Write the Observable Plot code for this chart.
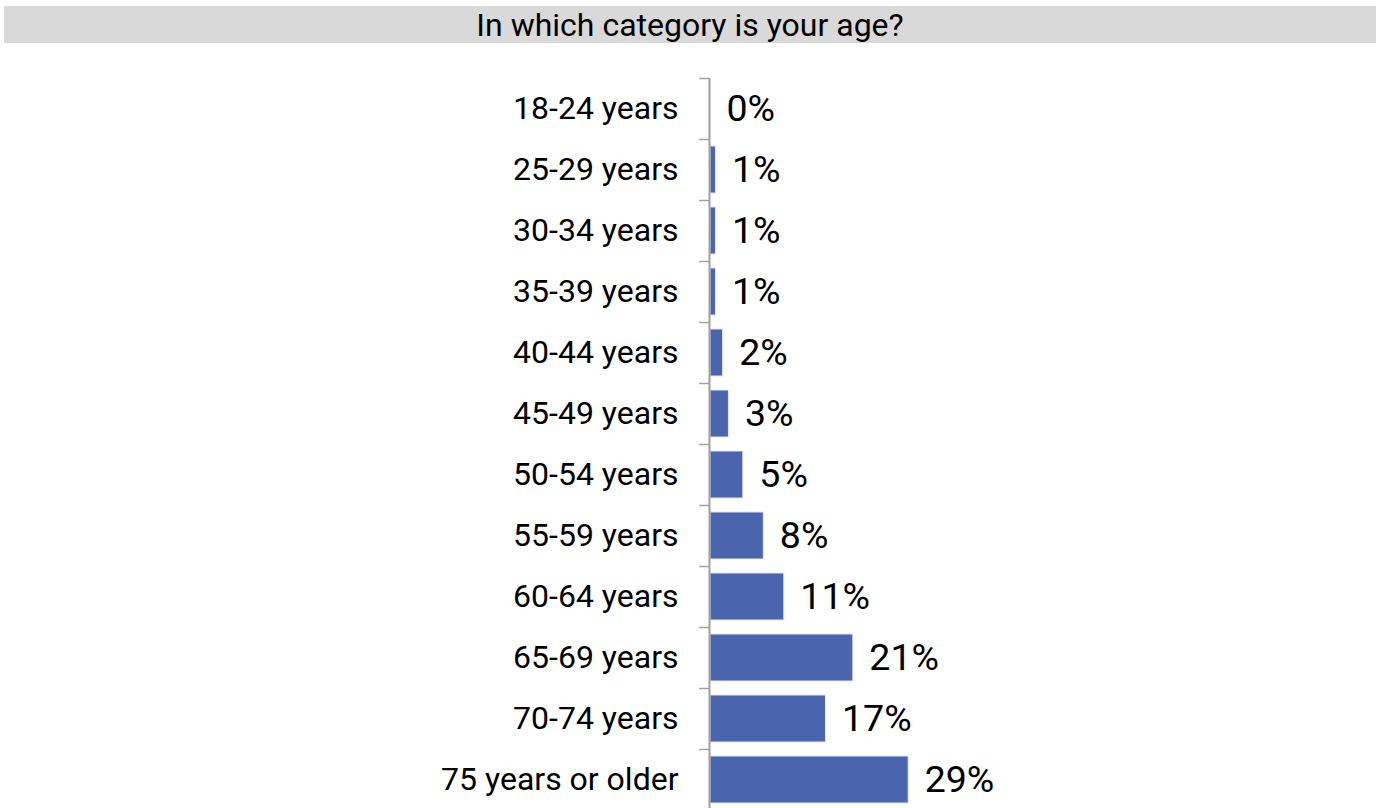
<!DOCTYPE html>
<html>
<head>
<meta charset="utf-8">
<script src="https://cdn.jsdelivr.net/npm/d3@7"></script>
<script src="https://cdn.jsdelivr.net/npm/@observablehq/plot@0.6"></script>
<style>
  html, body { margin: 0; padding: 0; background: #fff; }
  body { width: 1376px; height: 808px; overflow: hidden; font-family: Roboto, sans-serif; }
  #title {
    margin: 6px 0 0 4px; width: 1372px; height: 37px; line-height: 38px;
    background: #d9d9d9; color: #000; text-align: center; font-size: 32px;
  }
  #chart svg { display: block; font-family: Roboto, sans-serif; }
</style>
</head>
<body>
<div id="title">In which category is your age?</div>
<div id="chart"></div>
<script>
const categories = ["18-24 years", "25-29 years", "30-34 years", "35-39 years", "40-44 years", "45-49 years", "50-54 years", "55-59 years", "60-64 years", "65-69 years", "70-74 years", "75 years or older"];
const values = [0, 0.8, 0.8, 0.8, 1.85, 2.7, 4.8, 7.8, 10.8, 20.9, 16.9, 29.0];
const valueLabels = ["0%", "1%", "1%", "1%", "2%", "3%", "5%", "8%", "11%", "21%", "17%", "29%"];

const data = categories.map((c, i) => ({category: c, value: values[i], label: valueLabels[i]}));

const chart = Plot.plot({
  width: 1376,
  height: 767,
  marginLeft: 710,
  marginRight: 461,
  marginTop: 35,
  marginBottom: 0,
  style: {fontFamily: "Roboto, sans-serif", color: "#000", background: "transparent"},
  x: {domain: [0, 30], axis: null},
  y: {domain: categories, paddingInner: 0.235, paddingOuter: 0.1175, label: null, axis: null},
  marks: [
    Plot.barX(data, {y: "category", x: "value", fill: "#4a65ad", stroke: "#e3e8f1", strokeWidth: 1}),
    Plot.ruleY(categories, {y: d => d, x1: -1.45, x2: 0, dx: -1, dy: -30.5, stroke: "#a0a0a0", strokeWidth: 1.5}),
    Plot.ruleX([0], {dx: -1, stroke: "#a0a0a0", strokeWidth: 2}),
    Plot.axisY({tickSize: 0, tickPadding: 32, fontSize: 32, fill: "#000", label: null}),
    Plot.text(data, {y: "category", x: "value", text: "label", textAnchor: "start", dx: 16, fontSize: 37.5, fill: "#000"})
  ]
});
document.getElementById("chart").appendChild(chart);
</script>
</body>
</html>
